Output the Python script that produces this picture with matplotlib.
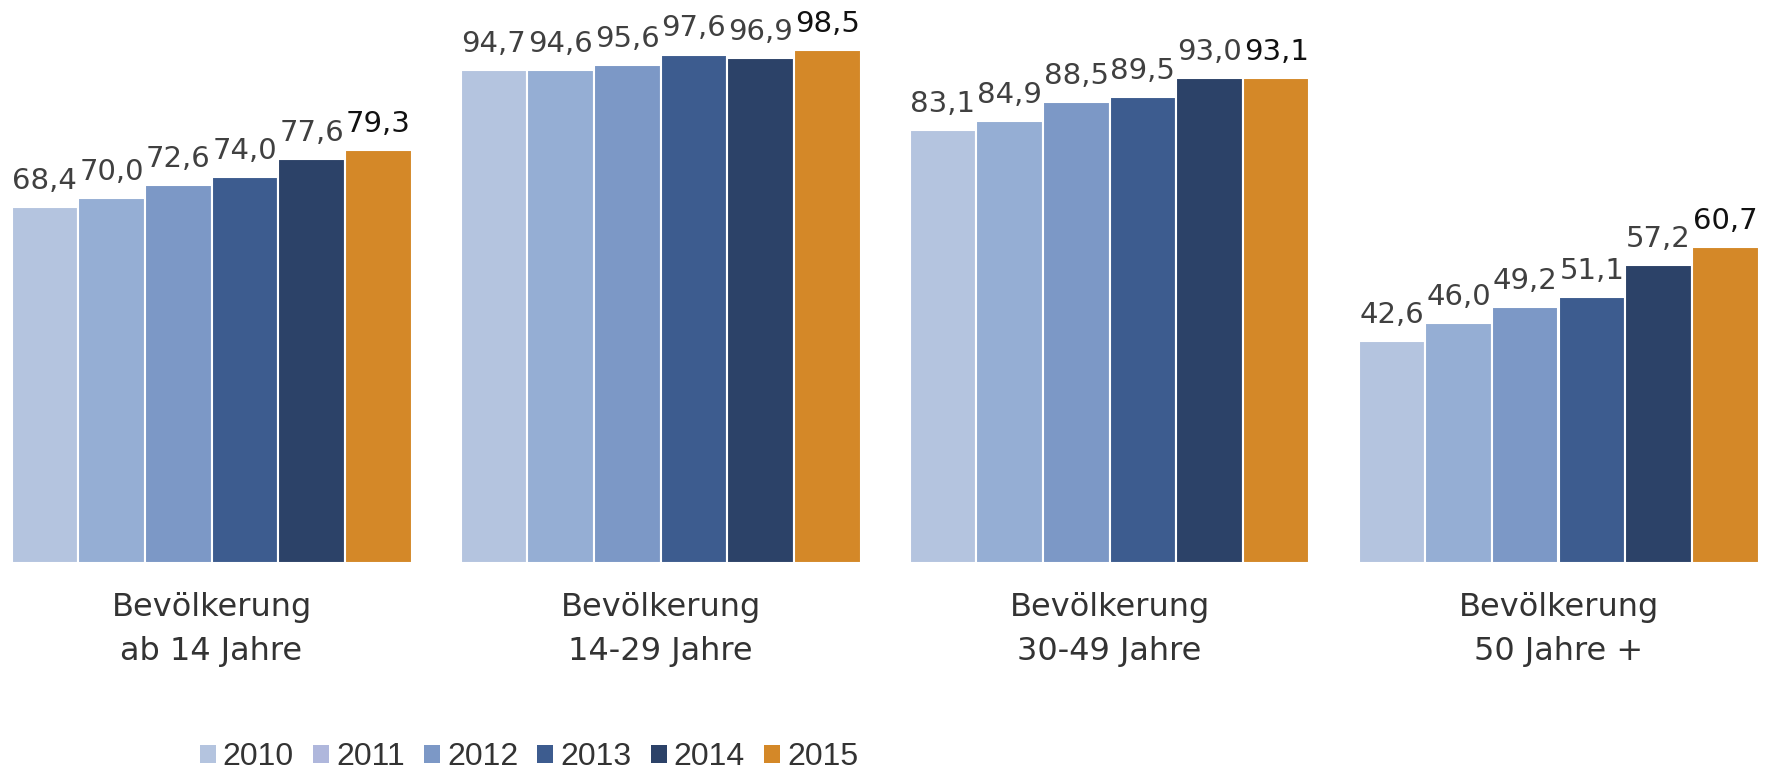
import numpy as np
import matplotlib
matplotlib.use('Agg')
import matplotlib.pyplot as plt
from matplotlib.patches import Patch

# data
groups = ['Bevölkerung\nab 14 Jahre', 'Bevölkerung\n14-29 Jahre',
          'Bevölkerung\n30-49 Jahre', 'Bevölkerung\n50 Jahre +']
years = ['2010', '2011', '2012', '2013', '2014', '2015']
v2010 = [68.4, 94.7, 83.1, 42.6]
v2011 = [70.0, 94.6, 84.9, 46.0]
v2012 = [72.6, 95.6, 88.5, 49.2]
v2013 = [74.0, 97.6, 89.5, 51.1]
v2014 = [77.6, 96.9, 93.0, 57.2]
v2015 = [79.3, 98.5, 93.1, 60.7]
series = [v2010, v2011, v2012, v2013, v2014, v2015]

bar_colors = ['#B4C4DF', '#95AED4', '#7C98C6', '#3D5C8F', '#2C4268', '#D48828']
legend_colors = ['#B4C4DF', '#AFB7DC', '#7C98C6', '#3D5C8F', '#2C4268', '#D48828']

W, H = 1777, 773
fig = plt.figure(figsize=(W / 100, H / 100), dpi=100)
ax = fig.add_axes([0, (H - 563) / H, 1, 521 / H])

x = np.arange(len(groups))
w = 400 / 6 / 449
for i, (vals, col) in enumerate(zip(series, bar_colors)):
    pos = x + (i - 2.5) * w
    ax.bar(pos, vals, width=w, color=col, edgecolor='white', linewidth=1.5)
    txt_col = '#111111' if i == 5 else '#404040'
    for px, v in zip(pos, vals):
        ax.annotate(f'{v:.1f}'.replace('.', ','), (px, v), xytext=(0, 13),
                    textcoords='offset points', ha='center', va='baseline',
                    fontsize=21, color=txt_col)

ax.set_xlim(-211.5 / 449, (W - 211.5) / 449)
ax.set_ylim(0, 100)
ax.set_xticks(x)
ax.set_xticklabels(groups, fontsize=23, color='#333333', linespacing=1.55)
ax.tick_params(axis='x', length=0, pad=21)
ax.set_yticks([])
for s in ax.spines.values():
    s.set_visible(False)

handles = [Patch(facecolor=c, edgecolor='none') for c in legend_colors]
fig.legend(handles, years, loc='center', bbox_to_anchor=(529 / W, 16 / H),
           ncol=6, frameon=False, handlelength=0.5, handleheight=0.5,
           handletextpad=0.22, columnspacing=0.6, borderpad=0,
           prop={'family': 'Liberation Sans', 'size': 23}, labelcolor='#333333')

fig.savefig('out.png', dpi=100)
